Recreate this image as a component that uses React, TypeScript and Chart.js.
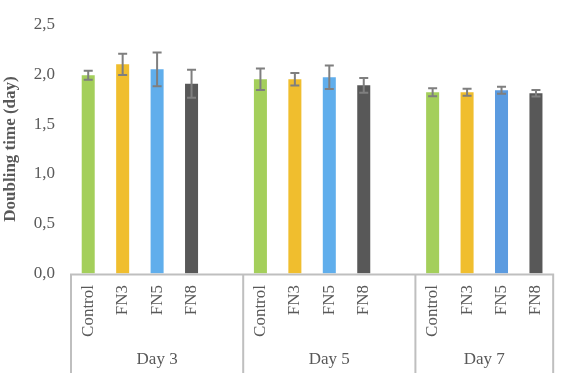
import React, { useEffect, useRef } from 'react';
import { Chart, registerables } from 'chart.js';

Chart.register(...registerables);

const groups = ['Day 3', 'Day 5', 'Day 7'];
const treatments = ['Control', 'FN3', 'FN5', 'FN8'];
const day3Values = [1.99, 2.1, 2.05, 1.905];
const day5Values = [1.95, 1.95, 1.97, 1.89];
const day7Values = [1.82, 1.82, 1.84, 1.81];
const day3Errors = [0.045, 0.107, 0.17, 0.14];
const day5Errors = [0.107, 0.063, 0.118, 0.074];
const day7Errors = [0.04, 0.035, 0.036, 0.032];
const treatmentColors = ['#A4CF5B', '#F0BE2E', '#60AEEC', '#585858'];
const day7Colors = ['#A4CF5B', '#F0BE2E', '#5B9BE0', '#585858'];
const yTicks = [0, 0.5, 1.0, 1.5, 2.0, 2.5];

const FONT = "'Liberation Serif', 'Times New Roman', serif";
const TEXT = '#595959';
const AXIS = '#BFBFBF';

const groupValues = [day3Values, day5Values, day7Values];
const groupErrors = [day3Errors, day5Errors, day7Errors];
const groupColors = [treatmentColors, treatmentColors, day7Colors];

const labels: string[] = [];
const values: (number | null)[] = [];
const errors: (number | null)[] = [];
const colors: string[] = [];
groups.forEach((g, gi) => {
  treatments.forEach((t, ti) => {
    labels.push(t);
    values.push(groupValues[gi][ti]);
    errors.push(groupErrors[gi][ti]);
    colors.push(groupColors[gi][ti]);
  });
  if (gi < groups.length - 1) {
    labels.push('');
    values.push(null);
    errors.push(null);
    colors.push('rgba(0,0,0,0)');
  }
});

const errorBarPlugin = {
  id: 'errorBars',
  afterDatasetsDraw(chart: any) {
    const { ctx } = chart;
    const y = chart.scales.y;
    const meta = chart.getDatasetMeta(0);
    ctx.save();
    ctx.strokeStyle = '#7F7F7F';
    ctx.lineWidth = 2;
    meta.data.forEach((bar: any, i: number) => {
      const v = values[i];
      const e = errors[i];
      if (v == null || e == null) return;
      const x = bar.x;
      const top = y.getPixelForValue(v + e);
      const bot = y.getPixelForValue(v - e);
      const cap = 4.5;
      ctx.beginPath();
      ctx.moveTo(x, top);
      ctx.lineTo(x, bot);
      ctx.moveTo(x - cap, top);
      ctx.lineTo(x + cap, top);
      ctx.moveTo(x - cap, bot);
      ctx.lineTo(x + cap, bot);
      ctx.stroke();
    });
    ctx.restore();
  },
};

const groupAxisPlugin = {
  id: 'groupAxis',
  afterDraw(chart: any) {
    const { ctx, chartArea } = chart;
    const xs = chart.scales.x;
    const half = (xs.getPixelForValue(1) - xs.getPixelForValue(0)) / 2;
    const n = labels.length;
    const bottom = chartArea.bottom;
    const H = chart.height;
    const dividers: number[] = [xs.getPixelForValue(0) - half];
    groups.forEach((g, gi) => {
      if (gi < groups.length - 1) dividers.push(xs.getPixelForValue(gi * 5 + 4) + half);
    });
    dividers.push(xs.getPixelForValue(n - 1) + half);
    ctx.save();
    ctx.strokeStyle = AXIS;
    ctx.lineWidth = 2;
    ctx.beginPath();
    ctx.moveTo(dividers[0] - 1, bottom + 1);
    ctx.lineTo(dividers[dividers.length - 1] + 1, bottom + 1);
    dividers.forEach((d) => {
      ctx.moveTo(d, bottom);
      ctx.lineTo(d, H);
    });
    ctx.stroke();
    ctx.fillStyle = TEXT;
    ctx.font = `17px ${FONT}`;
    ctx.textAlign = 'center';
    ctx.textBaseline = 'middle';
    groups.forEach((g, gi) => {
      const cx = (dividers[gi] + dividers[gi + 1]) / 2;
      ctx.fillText(g, cx, 360);
    });
    ctx.restore();
  },
};

export default function App() {
  const ref = useRef<HTMLCanvasElement | null>(null);
  useEffect(() => {
    document.body.style.margin = '0';
    const canvas = ref.current;
    if (!canvas) return;
    const chart = new Chart(canvas, {
      type: 'bar',
      data: {
        labels,
        datasets: [
          {
            data: values,
            backgroundColor: colors,
            borderWidth: 0,
            barPercentage: 0.378,
            categoryPercentage: 1,
          },
        ],
      },
      options: {
        animation: false,
        responsive: false,
        devicePixelRatio: 1,
        layout: { padding: { top: 9.5, right: 4, left: 0, bottom: 0 } },
        plugins: {
          legend: { display: false },
          tooltip: { enabled: false },
        },
        scales: {
          x: {
            grid: { display: false, drawTicks: false },
            border: { display: false },
            ticks: {
              autoSkip: false,
              maxRotation: 90,
              minRotation: 90,
              padding: 11.5,
              color: TEXT,
              font: { family: FONT, size: 17 },
            },
            afterFit: (s: any) => {
              s.height = 99.5;
            },
          },
          y: {
            min: 0,
            max: 2.5,
            grid: { display: false, drawTicks: false },
            border: { display: false },
            afterBuildTicks: (s: any) => {
              s.ticks = yTicks.map((v) => ({ value: v }));
            },
            ticks: {
              padding: 16,
              color: TEXT,
              font: { family: FONT, size: 17, lineHeight: 1 },
              callback: (v: any) => Number(v).toFixed(1).replace('.', ','),
            },
            title: {
              display: true,
              text: 'Doubling time (day)',
              color: TEXT,
              padding: { top: 0, bottom: 0 },
              font: { family: FONT, size: 17, weight: 'bold' },
            },
            afterFit: (s: any) => {
              s.width = 71;
            },
          },
        },
      },
      plugins: [errorBarPlugin, groupAxisPlugin],
    });
    return () => chart.destroy();
  }, []);
  return <canvas ref={ref} width={568} height={373} style={{ display: 'block', width: 568, height: 373 }} />;
}
